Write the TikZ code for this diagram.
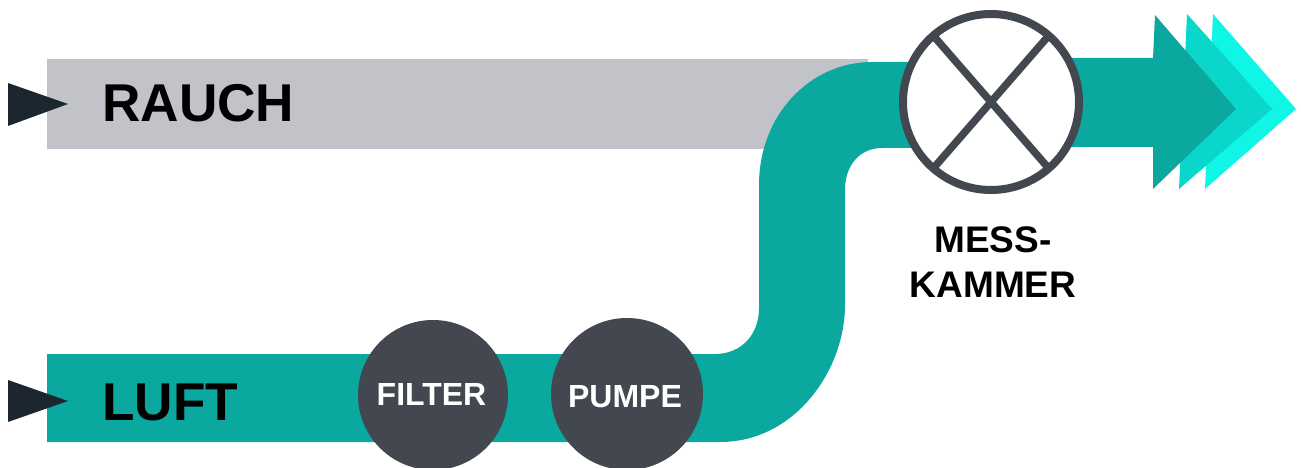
\documentclass[tikz,border=0pt]{standalone}
\usepackage{fontspec}
\setmainfont{Liberation Sans}
\definecolor{teal1}{HTML}{0AA89F}
\definecolor{teal2}{HTML}{0BD6CA}
\definecolor{teal3}{HTML}{0FF5E6}
\definecolor{greyband}{HTML}{C2C3C9}
\definecolor{darkdisc}{HTML}{43474F}
\definecolor{inlet}{HTML}{1C2630}
\tikzset{
  disc/.style={circle,fill=darkdisc,inner sep=0pt,minimum size=#1},
  disctext/.style={text=white,inner sep=0pt,font=\bfseries\fontsize{32}{36}\selectfont},
  biglabel/.style={anchor=base west,inner sep=0pt,font=\bfseries\fontsize{53.2}{60}\selectfont},
  chamberlabel/.style={align=center,inner sep=0pt,font=\bfseries\fontsize{37}{45}\selectfont},
  inletarrow/.style={fill=inlet},
}
\begin{document}
\begin{tikzpicture}[x=1pt,y=-1pt]
\useasboundingbox (0,0) rectangle (1301,468);
% grey band
\fill[greyband] (47,59) rectangle (868,149);
% outlet arrows
\fill[teal3] (1213,14) -- (1296,109) -- (1205,189) -- cycle;
\fill[teal2] (1187,14) -- (1272,109) -- (1179,189) -- cycle;
\fill[teal1] (1060,58) -- (1153,58) -- (1155,15) -- (1236,109) -- (1153,189) -- (1153,147) -- (1060,147) -- cycle;
% teal S band
\fill[teal1] (47,354) -- (715,354)
  .. controls (741,354) and (759,335) .. (759,308)
  -- (759,185)
  .. controls (759,115) and (810,62) .. (872,62)
  -- (930,62) -- (930,148) -- (882,148)
  .. controls (860,148) and (845,165) .. (845,190)
  -- (845,305)
  .. controls (845,370) and (795,442) .. (720,442)
  -- (47,442) -- cycle;
% inlet arrows
\fill[inletarrow] (8,83) -- (68,104) -- (8,126) -- cycle;
\fill[inletarrow] (8,380) -- (68,401) -- (8,422) -- cycle;
% labels
\node[biglabel] (rauch) at (102,122) {RAUCH};
\node[biglabel] (luft) at (102,420) {LUFT};
% discs
\node[disc=150pt] (filter) at (433,395) {};
\node[disc=152pt] (pumpe) at (627,394) {};
\node[disctext] (filtertext) at (431.5,394.5) {FILTER};
\node[disctext] (pumpetext) at (625,396.5) {PUMPE};
% measuring chamber
\node[circle,draw=darkdisc,fill=white,line width=8pt,inner sep=0pt,outer sep=0pt,minimum size=176pt] (lamp) at (991,102) {};
\draw[darkdisc,line width=7.5pt] (lamp.49) -- (lamp.229) (lamp.131) -- (lamp.311);
\node[chamberlabel] (kammer) at (993,262) {MESS-\\KAMMER};
\end{tikzpicture}
\end{document}
